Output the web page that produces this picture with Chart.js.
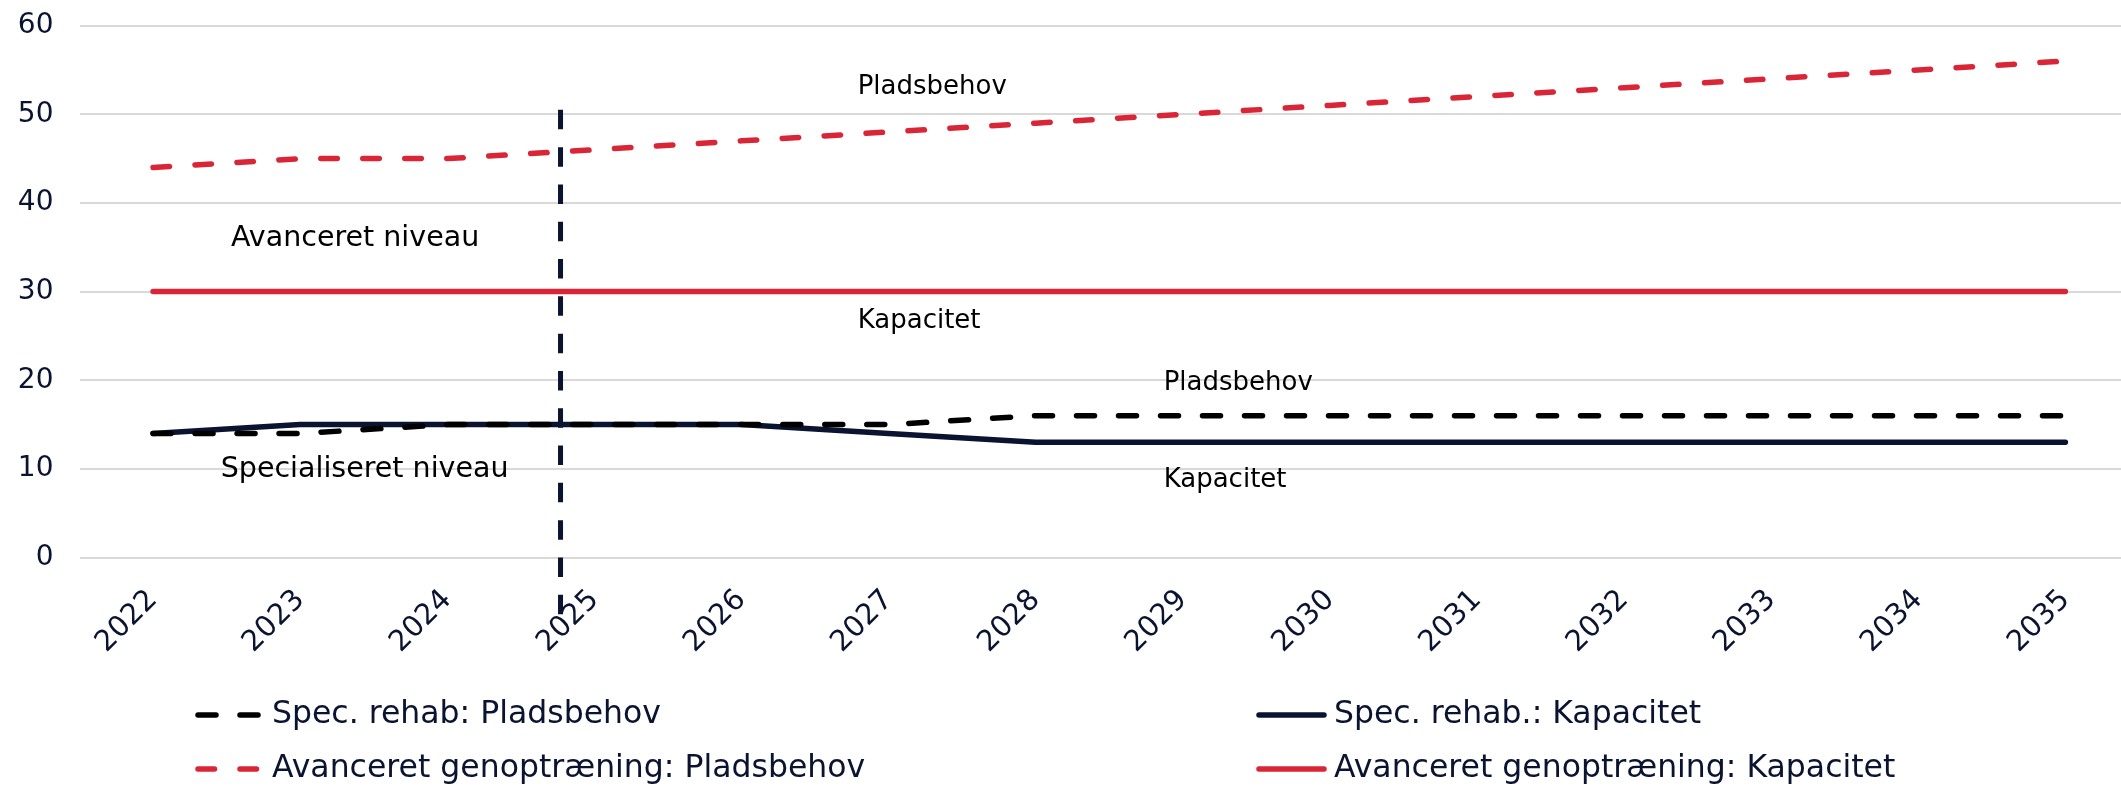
<!DOCTYPE html>
<html>
<head>
<meta charset="utf-8">
<script src="https://cdn.jsdelivr.net/npm/chart.js@4.4.1/dist/chart.umd.min.js"></script>
<style>
  html, body { margin: 0; padding: 0; background: #fff; }
  #wrap { width: 2121px; height: 787px; }
</style>
</head>
<body>
<div id="wrap"><canvas id="chart"></canvas></div>
<script>
// data
const years = [2022, 2023, 2024, 2025, 2026, 2027, 2028, 2029, 2030, 2031, 2032, 2033, 2034, 2035];
const specPladsbehov = [14, 14, 15, 15, 15, 15, 16, 16, 16, 16, 16, 16, 16, 16];
const specKapacitet = [14, 15, 15, 15, 15, 14, 13, 13, 13, 13, 13, 13, 13, 13];
const avPladsbehov = [44, 45, 45, 46, 47, 48, 49, 50, 51, 52, 53, 54, 55, 56];
const avKapacitet = [30, 30, 30, 30, 30, 30, 30, 30, 30, 30, 30, 30, 30, 30];
const yTicks = [0, 10, 20, 30, 40, 50, 60];

// text notes placed in data space: [text, year, value, size]
const notes = [
  ['Avanceret niveau', 2022.53, 36.0, 28.5],
  ['Specialiseret niveau', 2022.46, 9.9, 28.5],
  ['Pladsbehov', 2026.79, 53.1, 26],
  ['Kapacitet', 2026.79, 26.7, 26],
  ['Pladsbehov', 2028.87, 19.7, 26],
  ['Kapacitet', 2028.87, 8.75, 26]
];
const markerYear = 2024.77;   // vertical dashed divider
const markerTop = 50.5;
const markerBottom = -6.45;

const RED = '#da2537';
const NAVY = '#0a1330';
const FONT = '"DejaVu Sans", sans-serif';

Chart.defaults.font.family = FONT;
Chart.defaults.color = NAVY;

const pts = vals => vals.map((v, i) => ({ x: years[i], y: v }));

const dividerPlugin = {
  id: 'divider',
  afterDatasetsDraw(chart) {
    const { ctx, scales: { x, y } } = chart;
    const px = x.getPixelForValue(markerYear);
    ctx.save();
    ctx.strokeStyle = NAVY;
    ctx.lineWidth = 5;
    ctx.setLineDash([19.5, 17.8]);
    ctx.beginPath();
    ctx.moveTo(px, y.getPixelForValue(markerTop));
    ctx.lineTo(px, y.getPixelForValue(markerBottom));
    ctx.stroke();
    ctx.restore();
  }
};

const notesPlugin = {
  id: 'notes',
  afterDraw(chart) {
    const { ctx, scales: { x, y } } = chart;
    ctx.save();
    ctx.fillStyle = '#000';
    ctx.textAlign = 'left';
    ctx.textBaseline = 'middle';
    notes.forEach(([t, xv, yv, size]) => {
      ctx.font = size + 'px ' + FONT;
      ctx.fillText(t, x.getPixelForValue(xv), y.getPixelForValue(yv));
    });
    ctx.restore();
  }
};

// two-column legend under the axis
const legendPlugin = {
  id: 'gridLegend',
  afterDraw(chart) {
    const { ctx } = chart;
    const cols = [195, 1256];
    const rows = [715, 769];
    ctx.save();
    ctx.font = '31.5px ' + FONT;
    ctx.textBaseline = 'middle';
    chart.data.datasets.forEach((ds, i) => {
      const cx = cols[i % 2], cy = rows[Math.floor(i / 2)];
      ctx.strokeStyle = ds.borderColor;
      ctx.lineWidth = 5.5;
      ctx.lineCap = 'round';
      ctx.setLineDash(ds.borderDash || []);
      ctx.beginPath();
      ctx.moveTo(cx + 3, cy);
      ctx.lineTo(cx + 68, cy);
      ctx.stroke();
      ctx.setLineDash([]);
      ctx.fillStyle = NAVY;
      ctx.fillText(ds.label, cx + (i % 2 ? 78 : 77), cy);
    });
    ctx.restore();
  }
};

new Chart(document.getElementById('chart'), {
  type: 'line',
  data: {
    datasets: [
      { label: 'Spec. rehab: Pladsbehov', data: pts(specPladsbehov), borderColor: '#000000',
        borderDash: [18, 24], borderCapStyle: 'round', order: 3 },
      { label: 'Spec. rehab.: Kapacitet', data: pts(specKapacitet), borderColor: NAVY, order: 4 },
      { label: 'Avanceret genoptræning: Pladsbehov', data: pts(avPladsbehov), borderColor: RED,
        borderDash: [16.5, 25.5], borderCapStyle: 'round', order: 2 },
      { label: 'Avanceret genoptræning: Kapacitet', data: pts(avKapacitet), borderColor: RED, order: 1 }
    ]
  },
  options: {
    responsive: true,
    maintainAspectRatio: false,
    animation: false,
    layout: { padding: { top: 25.6, left: 0, right: 0, bottom: 0 } },
    elements: {
      line: { borderWidth: 5.5, tension: 0, borderCapStyle: 'round', borderJoinStyle: 'round', fill: false },
      point: { radius: 0, hoverRadius: 0 }
    },
    plugins: { legend: { display: false }, tooltip: { enabled: false } },
    scales: {
      x: {
        type: 'linear',
        min: 2021.5,
        max: 2035.378,
        afterBuildTicks: axis => { axis.ticks = years.map(v => ({ value: v })); },
        afterFit: axis => { axis.height = 787 - 557.6; },
        grid: { display: false, drawTicks: false },
        border: { display: false },
        ticks: {
          autoSkip: false,
          minRotation: 45,
          maxRotation: 45,
          padding: 25.5,
          font: { size: 29 },
          color: NAVY,
          callback: v => String(v)
        }
      },
      y: {
        min: 0,
        max: 60,
        afterBuildTicks: axis => { axis.ticks = yTicks.map(v => ({ value: v })); },
        afterFit: axis => {
          axis.width = 79.5;
          axis.paddingTop = 0;
          axis.paddingBottom = 0;
        },
        grid: { color: '#d9d9d9', lineWidth: 2, drawTicks: false },
        border: { display: false },
        ticks: { padding: 26, font: { size: 28 }, color: NAVY }
      }
    }
  },
  plugins: [dividerPlugin, notesPlugin, legendPlugin]
});
</script>
</body>
</html>
